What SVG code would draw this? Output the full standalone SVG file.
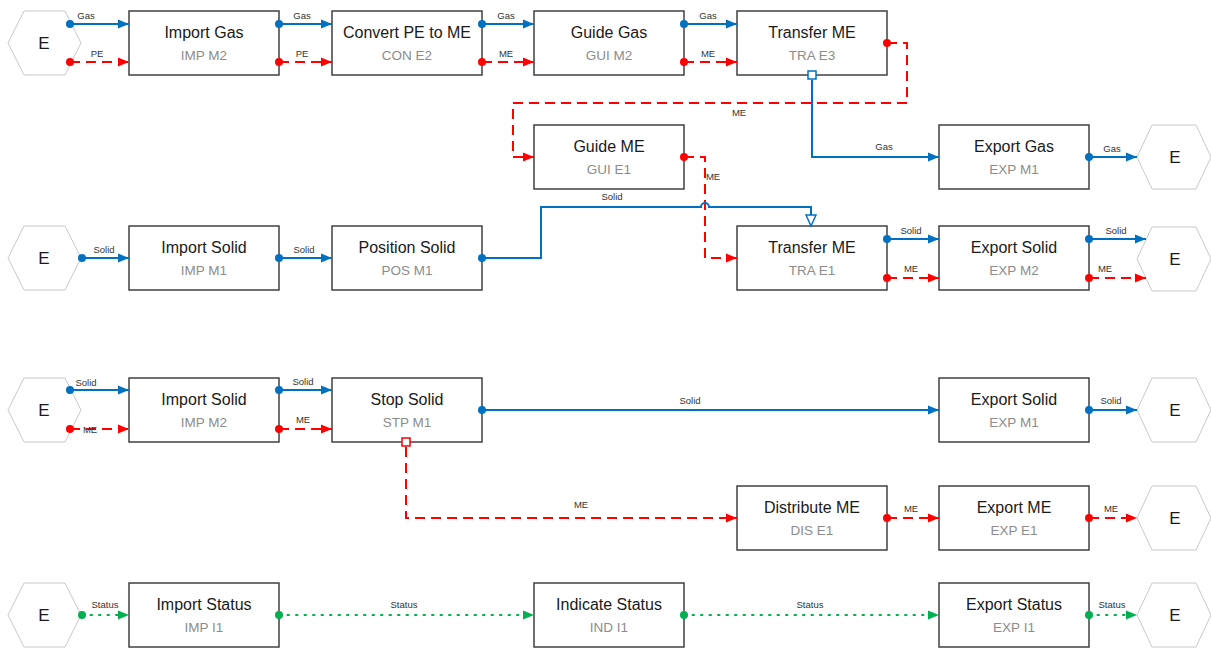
<svg xmlns="http://www.w3.org/2000/svg" width="1211" height="648" viewBox="0 0 1211 648">
<defs>
<style>
.box{fill:#fff;stroke:#404040;stroke-width:1.5}
.hex{fill:#fff;stroke:#c8c8c8;stroke-width:1}
.t{font-family:"Liberation Sans",Arial,sans-serif;font-size:16px;fill:#1a1a1a;text-anchor:middle}
.s{font-family:"Liberation Sans",Arial,sans-serif;font-size:13.5px;fill:#8c8c8c;text-anchor:middle}
.e{font-family:"Liberation Sans",Arial,sans-serif;font-size:17px;fill:#1a1a1a;text-anchor:middle}
.l{font-family:"Liberation Sans",Arial,sans-serif;font-size:9.5px;fill:#333;text-anchor:middle}
.b{fill:none;stroke:#0070C0;stroke-width:2}
.r{fill:none;stroke:#FF0000;stroke-width:2;stroke-dasharray:10,6}
.g{fill:none;stroke:#00B050;stroke-width:2;stroke-dasharray:1.5,7;stroke-linecap:round}
.ab{marker-end:url(#mb)}
.ar{marker-end:url(#mr)}
.ag{marker-end:url(#mg)}
.db{fill:#0070C0}
.dr{fill:#FF0000}
.dg{fill:#00B050}
</style>
<marker id="mb" markerUnits="userSpaceOnUse" markerWidth="12" markerHeight="10" refX="11" refY="5" orient="auto"><path d="M0,0.5 L11,5 L0,9.5 z" fill="#0070C0"/></marker>
<marker id="mr" markerUnits="userSpaceOnUse" markerWidth="12" markerHeight="10" refX="11" refY="5" orient="auto"><path d="M0,0.5 L11,5 L0,9.5 z" fill="#FF0000"/></marker>
<marker id="mg" markerUnits="userSpaceOnUse" markerWidth="12" markerHeight="10" refX="11" refY="5" orient="auto"><path d="M0,0.5 L11,5 L0,9.5 z" fill="#00B050"/></marker>
<marker id="mo" markerUnits="userSpaceOnUse" markerWidth="14" markerHeight="12" refX="12" refY="6" orient="auto"><path d="M1,1 L12,6 L1,11 z" fill="#fff" stroke="#0070C0" stroke-width="1.5"/></marker>
</defs>
<rect width="1211" height="648" fill="#fff"/>

<!-- hexagons -->
<g id="hexL1"><polygon class="hex" points="8,43 24,11 65,11 81,43 65,75 24,75"/><text class="e" x="44" y="49">E</text></g>
<g id="hexL2"><polygon class="hex" points="8,258 24,226 65,226 81,258 65,290 24,290"/><text class="e" x="44" y="264">E</text></g>
<g id="hexL3"><polygon class="hex" points="8,410 24,378 65,378 81,410 65,442 24,442"/><text class="e" x="44" y="416">E</text></g>
<g id="hexL4"><polygon class="hex" points="8,615 24,583 65,583 81,615 65,647 24,647"/><text class="e" x="44" y="621">E</text></g>
<g id="hexR1"><polygon class="hex" points="1137,157 1152,125 1196,125 1211,157 1196,189 1152,189"/><text class="e" x="1175" y="163">E</text></g>
<g id="hexR2"><polygon class="hex" points="1137,259 1152,227 1196,227 1211,259 1196,291 1152,291"/><text class="e" x="1175" y="265">E</text></g>
<g id="hexR3"><polygon class="hex" points="1137,410 1152,378 1196,378 1211,410 1196,442 1152,442"/><text class="e" x="1175" y="416">E</text></g>
<g id="hexR4"><polygon class="hex" points="1137,518 1152,486 1196,486 1211,518 1196,550 1152,550"/><text class="e" x="1175" y="524">E</text></g>
<g id="hexR5"><polygon class="hex" points="1137,615 1152,583 1196,583 1211,615 1196,647 1152,647"/><text class="e" x="1175" y="621">E</text></g>

<!-- boxes -->
<g id="impGas"><rect class="box" x="129" y="11" width="150" height="64"/><text class="t" x="204" y="38">Import Gas</text><text class="s" x="204" y="60">IMP M2</text></g>
<g id="conPE"><rect class="box" x="332" y="11" width="150" height="64"/><text class="t" x="407" y="38">Convert PE to ME</text><text class="s" x="407" y="60">CON E2</text></g>
<g id="guiGas"><rect class="box" x="534" y="11" width="150" height="64"/><text class="t" x="609" y="38">Guide Gas</text><text class="s" x="609" y="60">GUI M2</text></g>
<g id="traE3"><rect class="box" x="737" y="11" width="150" height="64"/><text class="t" x="812" y="38">Transfer ME</text><text class="s" x="812" y="60">TRA E3</text></g>
<g id="guiE1"><rect class="box" x="534" y="125" width="150" height="64"/><text class="t" x="609" y="152">Guide ME</text><text class="s" x="609" y="174">GUI E1</text></g>
<g id="expGas"><rect class="box" x="939" y="125" width="150" height="64"/><text class="t" x="1014" y="152">Export Gas</text><text class="s" x="1014" y="174">EXP M1</text></g>
<g id="impSolid1"><rect class="box" x="129" y="226" width="150" height="64"/><text class="t" x="204" y="253">Import Solid</text><text class="s" x="204" y="275">IMP M1</text></g>
<g id="posSolid"><rect class="box" x="332" y="226" width="150" height="64"/><text class="t" x="407" y="253">Position Solid</text><text class="s" x="407" y="275">POS M1</text></g>
<g id="traE1"><rect class="box" x="737" y="226" width="150" height="64"/><text class="t" x="812" y="253">Transfer ME</text><text class="s" x="812" y="275">TRA E1</text></g>
<g id="expSolid2"><rect class="box" x="939" y="226" width="150" height="64"/><text class="t" x="1014" y="253">Export Solid</text><text class="s" x="1014" y="275">EXP M2</text></g>
<g id="impSolid2"><rect class="box" x="129" y="378" width="150" height="64"/><text class="t" x="204" y="405">Import Solid</text><text class="s" x="204" y="427">IMP M2</text></g>
<g id="stpSolid"><rect class="box" x="332" y="378" width="150" height="64"/><text class="t" x="407" y="405">Stop Solid</text><text class="s" x="407" y="427">STP M1</text></g>
<g id="expSolid1"><rect class="box" x="939" y="378" width="150" height="64"/><text class="t" x="1014" y="405">Export Solid</text><text class="s" x="1014" y="427">EXP M1</text></g>
<g id="disME"><rect class="box" x="737" y="486" width="150" height="64"/><text class="t" x="812" y="513">Distribute ME</text><text class="s" x="812" y="535">DIS E1</text></g>
<g id="expME"><rect class="box" x="939" y="486" width="150" height="64"/><text class="t" x="1014" y="513">Export ME</text><text class="s" x="1014" y="535">EXP E1</text></g>
<g id="impStatus"><rect class="box" x="129" y="583" width="150" height="64"/><text class="t" x="204" y="610">Import Status</text><text class="s" x="204" y="632">IMP I1</text></g>
<g id="indStatus"><rect class="box" x="534" y="583" width="150" height="64"/><text class="t" x="609" y="610">Indicate Status</text><text class="s" x="609" y="632">IND I1</text></g>
<g id="expStatus"><rect class="box" x="939" y="583" width="150" height="64"/><text class="t" x="1014" y="610">Export Status</text><text class="s" x="1014" y="632">EXP I1</text></g>

<!-- connectors -->
<g id="connectors">
<path class="b ab" d="M70,24 H129"/><circle class="db" cx="70" cy="24" r="4"/><text class="l" x="86" y="19">Gas</text>
<path class="r ar" d="M70,62 H129"/><circle class="dr" cx="70" cy="62" r="4"/><text class="l" x="97" y="57">PE</text>
<path class="b ab" d="M279,24 H332"/><circle class="db" cx="279" cy="24" r="4"/><text class="l" x="302" y="19">Gas</text>
<path class="r ar" d="M279,62 H332"/><circle class="dr" cx="279" cy="62" r="4"/><text class="l" x="302" y="57">PE</text>
<path class="b ab" d="M482,24 H534"/><circle class="db" cx="482" cy="24" r="4"/><text class="l" x="506" y="19">Gas</text>
<path class="r ar" d="M482,62 H534"/><circle class="dr" cx="482" cy="62" r="4"/><text class="l" x="506" y="57">ME</text>
<path class="b ab" d="M684,24 H737"/><circle class="db" cx="684" cy="24" r="4"/><text class="l" x="708" y="19">Gas</text>
<path class="r ar" d="M684,62 H737"/><circle class="dr" cx="684" cy="62" r="4"/><text class="l" x="708" y="57">ME</text>
<path class="r ar" d="M887,43 H907 V103 H513 V157 H534"/><circle class="dr" cx="887" cy="43" r="4"/><text class="l" x="739" y="116">ME</text>
<path class="b ab" d="M812,80 V157 H939"/><rect x="808" y="71" width="8" height="8" fill="#fff" stroke="#0070C0" stroke-width="1.5"/><text class="l" x="884" y="150">Gas</text>
<path class="b ab" d="M1089,157 H1137"/><circle class="db" cx="1089" cy="157" r="4"/><text class="l" x="1112" y="152">Gas</text>
<path class="r ar" d="M684,157 H705 V258 H737"/><circle class="dr" cx="684" cy="157" r="4"/><text class="l" x="713" y="180">ME</text>
<path class="b ab" d="M82,258 H129"/><circle class="db" cx="82" cy="258" r="4"/><text class="l" x="104" y="253">Solid</text>
<path class="b ab" d="M279,258 H332"/><circle class="db" cx="279" cy="258" r="4"/><text class="l" x="304" y="253">Solid</text>
<path class="b" style="marker-end:url(#mo)" d="M482,258 H541 V207 H701 A4,4 0 0 1 709,207 H811 V226"/><circle class="db" cx="482" cy="258" r="4"/><text class="l" x="612" y="200">Solid</text>
<path class="b ab" d="M887,239 H939"/><circle class="db" cx="887" cy="239" r="4"/><text class="l" x="911" y="234">Solid</text>
<path class="r ar" d="M887,278 H939"/><circle class="dr" cx="887" cy="278" r="4"/><text class="l" x="911" y="272">ME</text>
<path class="b ab" d="M1089,239 H1146"/><circle class="db" cx="1089" cy="239" r="4"/><text class="l" x="1116" y="234">Solid</text>
<path class="r ar" d="M1089,278 H1146"/><circle class="dr" cx="1089" cy="278" r="4"/><text class="l" x="1105" y="272">ME</text>
<path class="b ab" d="M70,390 H129"/><circle class="db" cx="70" cy="390" r="4"/><text class="l" x="86" y="386">Solid</text>
<path class="r ar" d="M70,429 H129"/><circle class="dr" cx="70" cy="429" r="4"/><text class="l" x="90" y="433">ME</text>
<path class="b ab" d="M279,390 H332"/><circle class="db" cx="279" cy="390" r="4"/><text class="l" x="303" y="385">Solid</text>
<path class="r ar" d="M279,429 H332"/><circle class="dr" cx="279" cy="429" r="4"/><text class="l" x="303" y="423">ME</text>
<path class="b ab" d="M482,410 H939"/><circle class="db" cx="482" cy="410" r="4"/><text class="l" x="690" y="404">Solid</text>
<path class="b ab" d="M1089,410 H1137"/><circle class="db" cx="1089" cy="410" r="4"/><text class="l" x="1111" y="404">Solid</text>
<path class="r ar" d="M406,447 V518 H737"/><rect x="402" y="438" width="8" height="8" fill="#fff" stroke="#FF0000" stroke-width="1.5"/><text class="l" x="581" y="508">ME</text>
<path class="r ar" d="M887,518 H939"/><circle class="dr" cx="887" cy="518" r="4"/><text class="l" x="911" y="512">ME</text>
<path class="r ar" d="M1089,518 H1137"/><circle class="dr" cx="1089" cy="518" r="4"/><text class="l" x="1111" y="512">ME</text>
<path class="g ag" d="M82,615 H129"/><circle class="dg" cx="82" cy="615" r="4"/><text class="l" x="105" y="608">Status</text>
<path class="g ag" d="M279,615 H534"/><circle class="dg" cx="279" cy="615" r="4"/><text class="l" x="404" y="608">Status</text>
<path class="g ag" d="M684,615 H939"/><circle class="dg" cx="684" cy="615" r="4"/><text class="l" x="810" y="608">Status</text>
<path class="g ag" d="M1089,615 H1137"/><circle class="dg" cx="1089" cy="615" r="4"/><text class="l" x="1112" y="608">Status</text>
</g>
</svg>
